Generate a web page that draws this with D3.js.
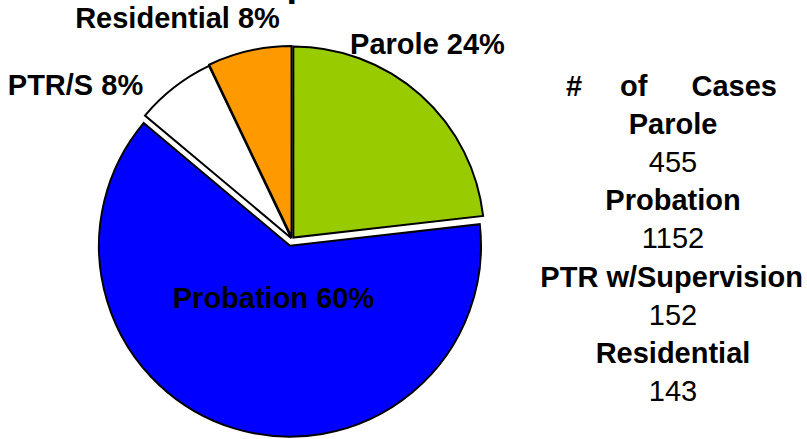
<!DOCTYPE html>
<html>
<head>
<meta charset="utf-8">
<script src="https://cdn.jsdelivr.net/npm/d3@7"></script>
<style>
  html, body { margin: 0; padding: 0; background: #fff; }
  svg { display: block; font-family: "Liberation Sans", Arial, Helvetica, sans-serif; }
</style>
</head>
<body>
<svg id="chart" width="807" height="439"></svg>
<script>
// ---- data ----
const categories  = ["Parole", "Probation", "PTR w/Supervision", "Residential"];
const shortLabels = ["Parole", "Probation", "PTR/S", "Residential"];
const caseCounts  = [455, 1152, 152, 143];
const pctLabels   = ["24%", "60%", "8%", "8%"];
// angular shares of the drawn slices (percent)
const sliceShares = [23.2, 62.9, 6.8, 7.1];
const titleText   = "Supervision";
const legendTitle = ["#", "of", "Cases"];

// ---- layout / style ----
const colors  = ["#99CC00", "#0000FF", "#FFFFFF", "#FF9900"];
const explode = [2, 7, 1, 2];
const cx = 292, cy = 239, R = 191;
const labelPos = [            // anchor-middle positions, relative to the pie centre
  { dx: 135.5, dy: -185 },    // Parole
  { dx: -18.5, dy: 69 },      // Probation
  { dx: -216.5, dy: -144 },   // PTR/S
  { dx: -114.5, dy: -211 }    // Residential
];
const fontSize = 29;

const svg = d3.select("#chart");

// title (cut off at the top of the picture)
svg.append("text")
  .attr("x", 238).attr("y", -4)
  .attr("font-size", 38).attr("font-weight", "bold")
  .text(titleText);

// pie
const pie = d3.pie().sort(null).value(d => d);
const arcs = pie(sliceShares);
const arc = d3.arc().innerRadius(0).outerRadius(R);

const g = svg.append("g").attr("transform", `translate(${cx},${cy})`);
g.selectAll("path.slice")
  .data(arcs)
  .join("path")
  .attr("class", "slice")
  .attr("transform", (d, i) => {
    const mid = (d.startAngle + d.endAngle) / 2;
    const [ox, oy] = d3.pointRadial(mid, explode[i]);
    return `translate(${ox},${oy})`;
  })
  .attr("d", arc)
  .attr("fill", (d, i) => colors[i])
  .attr("stroke", "#000")
  .attr("stroke-width", 2)
  .attr("stroke-linejoin", "miter");

// slice labels
g.selectAll("text.lbl")
  .data(arcs)
  .join("text")
  .attr("class", "lbl")
  .attr("x", (d, i) => labelPos[i].dx)
  .attr("y", (d, i) => labelPos[i].dy)
  .attr("text-anchor", "middle")
  .attr("font-size", fontSize)
  .attr("font-weight", "bold")
  .attr("fill", "#000")
  .text((d, i) => shortLabels[i] + " " + pctLabels[i]);

// legend block "# of Cases"
const legX = 673, legTop = 96, lineH = 38.1;
const lt = svg.append("g");
lt.append("text").attr("x", 566).attr("y", legTop).attr("font-size", fontSize).attr("font-weight", "bold").text(legendTitle[0]);
lt.append("text").attr("x", 620).attr("y", legTop).attr("font-size", fontSize).attr("font-weight", "bold").text(legendTitle[1]);
lt.append("text").attr("x", 777).attr("y", legTop).attr("text-anchor", "end").attr("font-size", fontSize).attr("font-weight", "bold").text(legendTitle[2]);

const lines = [];
categories.forEach((c, i) => {
  lines.push({ text: c, bold: true });
  lines.push({ text: String(caseCounts[i]), bold: false });
});
lt.selectAll("text.leg")
  .data(lines)
  .join("text")
  .attr("class", "leg")
  .attr("x", legX)
  .attr("y", (d, i) => legTop + lineH * (i + 1))
  .attr("text-anchor", "middle")
  .attr("font-size", fontSize)
  .attr("font-weight", d => d.bold ? "bold" : "normal")
  .text(d => d.text)
  .each(function () {
    // keep long lines inside the right margin
    const w = this.getComputedTextLength();
    const right = legX + w / 2;
    if (right > 803) d3.select(this).attr("x", legX - (right - 803));
  });
</script>
</body>
</html>
